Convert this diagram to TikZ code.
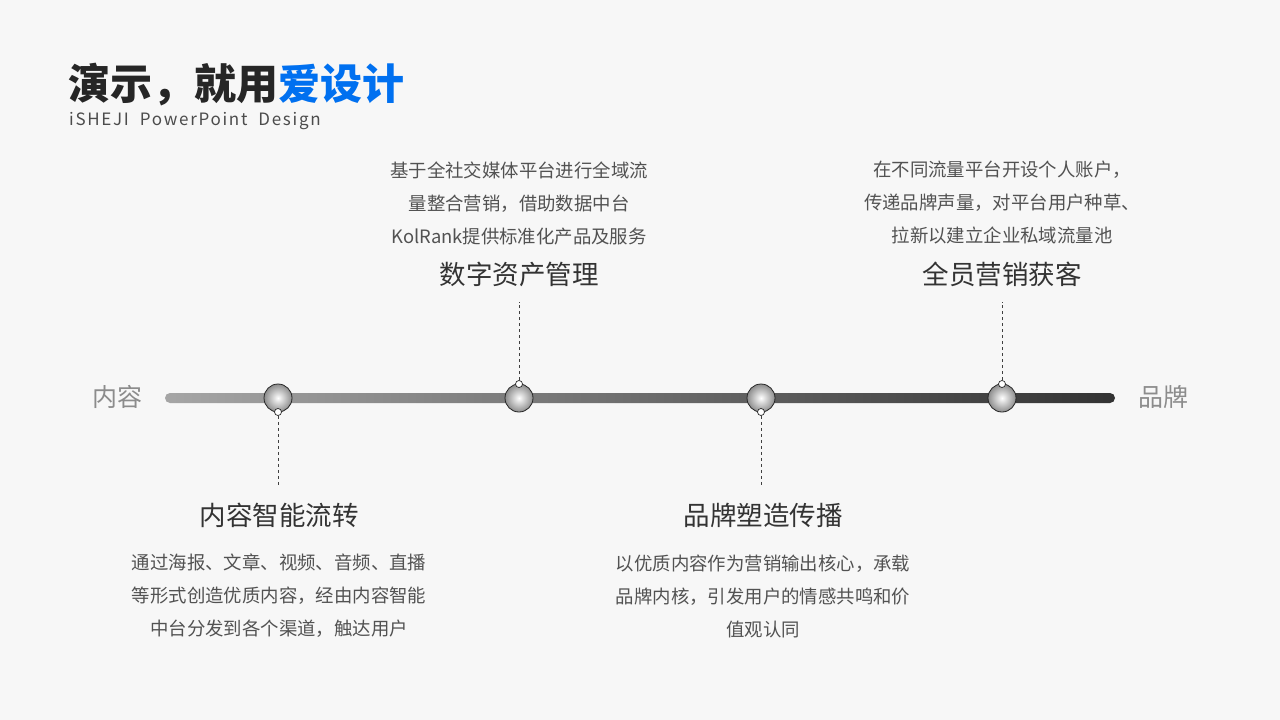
\documentclass[tikz,border=0pt]{standalone}
\usepackage{fontspec}
\setmainfont{Noto Sans CJK SC}
\newfontfamily\subfont[LetterSpace=10]{Noto Sans CJK SC}
\begin{document}
\begin{tikzpicture}[x=1pt,y=-1pt,
  body/.style={font=\fontsize{18.4}{33}\selectfont,text=black!68,align=center},
  head/.style={font=\fontsize{26.5}{30}\selectfont,text=black!80},
  ball/.style={circle,minimum size=28pt,inner sep=0pt,draw=black!85,line width=0.8pt,shading=radial,inner color=white,outer color=black!45},
  dot/.style={circle,minimum size=7pt,inner sep=0pt,draw=black!85,fill=white,line width=0.7pt},
  stem/.style={draw=black!75,dashed,line width=0.8pt}]
\fill[black!3] (0,0) rectangle (1280,720);
\useasboundingbox (0,0) rectangle (1280,720);
\node[anchor=west,inner sep=0pt] (title) at (68,85) {\fontsize{42}{44}\selectfont\bfseries\textcolor{black!85}{演示，就用}\textcolor[RGB]{0,112,240}{爱设计}};
\node[anchor=west,inner sep=0pt,text=black!70] (sub) at (69,121) {\subfont\fontsize{17}{20}\selectfont iSHEJI\ \ PowerPoint\ \ Design};
\shade[left color=black!35,right color=black!80,rounded corners=5pt] (165,393) rectangle (1115,403);
\node[text=black!45,font=\fontsize{25}{28}\selectfont] (l) at (117,397) {内容};
\node[text=black!45,font=\fontsize{25}{28}\selectfont] (r) at (1163,397) {品牌};
\node[ball] (b1) at (278,398) {};
\node[ball] (b2) at (519,398) {};
\node[ball] (b3) at (761,398) {};
\node[ball] (b4) at (1002,398) {};
\coordinate (e1) at (278,485);
\coordinate (e2) at (519,302);
\coordinate (e3) at (761,485);
\coordinate (e4) at (1002,302);
\node[dot] (d1) at (278,412) {};
\node[dot] (d2) at (519,384) {};
\node[dot] (d3) at (761,412) {};
\node[dot] (d4) at (1002,384) {};
\draw[stem] (d1) -- (e1);
\draw[stem] (d2) -- (e2);
\draw[stem] (d3) -- (e3);
\draw[stem] (d4) -- (e4);
\node[head] (h1) at (279,515) {内容智能流转};
\node[head] (h2) at (519,274) {数字资产管理};
\node[head] (h3) at (763,515) {品牌塑造传播};
\node[head] (h4) at (1002,274) {全员营销获客};
\node[body] (t1) at (279,596) {通过海报、文章、视频、音频、直播\\等形式创造优质内容，经由内容智能\\中台分发到各个渠道，触达用户};
\node[body] (t2) at (519,203) {基于全社交媒体平台进行全域流\\量整合营销，借助数据中台\\KolRank提供标准化产品及服务};
\node[body] (t3) at (763,596) {以优质内容作为营销输出核心，承载\\品牌内核，引发用户的情感共鸣和价\\值观认同};
\node[body] (t4) at (1002,203) {在不同流量平台开设个人账户，\\传递品牌声量，对平台用户种草、\\拉新以建立企业私域流量池};
\end{tikzpicture}
\end{document}
